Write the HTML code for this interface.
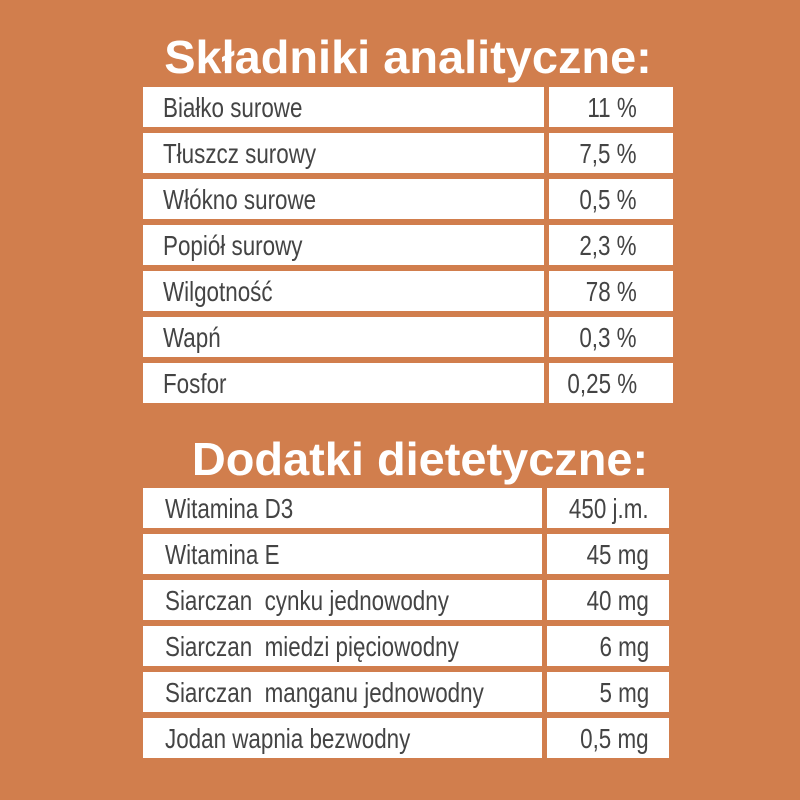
<!DOCTYPE html>
<html><head><meta charset="utf-8"><style>
html,body{margin:0;padding:0}
body{width:800px;height:800px;background:#D17E4D;position:relative;overflow:hidden;font-family:"Liberation Sans",sans-serif}
.t{position:absolute;color:#fff;font-weight:bold;font-size:46px;white-space:nowrap;left:0;width:800px;text-align:center;transform:scaleX(1.02)}
.b{position:absolute;background:#fff;height:40px}
.s{position:absolute;top:4px;font-size:28px;color:#444;white-space:nowrap;transform:scaleX(0.8);transform-origin:left top;line-height:34px}
.r{transform-origin:right top}
</style></head><body>
<div class="t" style="top:30px;left:8px">Składniki analityczne:</div>
<div class="t" style="top:432px;left:20px">Dodatki dietetyczne:</div>
<div id="c"></div>
<script>
var c=document.getElementById('c'),h='';
var a=[["Białko surowe","11 %"],["Tłuszcz surowy","7,5 %"],["Włókno surowe","0,5 %"],["Popiół surowy","2,3 %"],["Wilgotność","78 %"],["Wapń","0,3 %"],["Fosfor","0,25 %"]];
a.forEach(function(r,i){var y=87+46*i;
h+='<div class="b" style="left:143px;top:'+y+'px;width:401px"><div class="s" style="left:20px">'+r[0]+'</div></div>';
h+='<div class="b" style="left:549px;top:'+y+'px;width:124px"><div class="s r" style="right:36px">'+r[1]+'</div></div>';});
var d=[["Witamina D3","450 j.m."],["Witamina E","45 mg"],["Siarczan&nbsp; cynku jednowodny","40 mg"],["Siarczan&nbsp; miedzi pięciowodny","6 mg"],["Siarczan&nbsp; manganu jednowodny","5 mg"],["Jodan wapnia bezwodny","0,5 mg"]];
d.forEach(function(r,i){var y=488+46*i;
h+='<div class="b" style="left:143px;top:'+y+'px;width:399px"><div class="s" style="left:22px">'+r[0]+'</div></div>';
h+='<div class="b" style="left:547px;top:'+y+'px;width:122px"><div class="s r" style="right:20px">'+r[1]+'</div></div>';});
c.innerHTML=h;
</script>
</body></html>
